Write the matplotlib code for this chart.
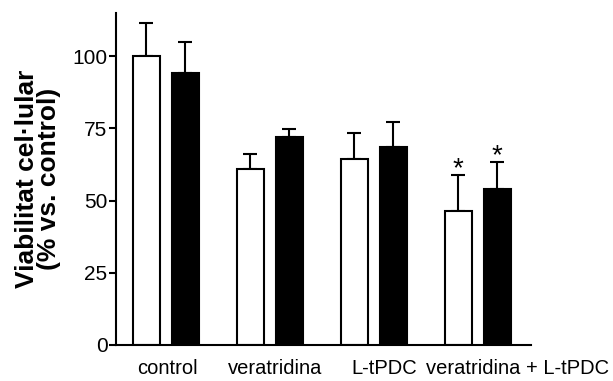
import numpy as np
import matplotlib
matplotlib.use("Agg")
import matplotlib.pyplot as plt

plt.rcParams['font.family'] = ['Liberation Sans', 'DejaVu Sans']

groups = ['control', 'veratridina', 'L-tPDC', 'veratridina + L-tPDC']
white_vals = [100, 61, 64.5, 46.5]
white_err = [11.5, 5, 8.8, 12.3]
black_vals = [94, 72, 68.5, 54]
black_err = [10.8, 2.7, 8.7, 9.4]
white_sig = [False, False, False, True]
black_sig = [False, False, False, True]

x = np.arange(len(groups))
off = 0.1875
w = 0.26

fig = plt.figure(figsize=(6.13, 3.81), dpi=100)
ax = fig.add_axes([0.189, 0.0945, 0.677, 0.872])

ax.bar(x - off, white_vals, w, color='white', edgecolor='black', linewidth=1.5, zorder=2)
ax.bar(x + off, black_vals, w, color='black', edgecolor='black', linewidth=1.5, zorder=2)
ax.errorbar(x - off, white_vals, yerr=[np.zeros(4), white_err], fmt='none',
            ecolor='black', elinewidth=1.5, capsize=5, capthick=1.5, zorder=1)
ax.errorbar(x + off, black_vals, yerr=[np.zeros(4), black_err], fmt='none',
            ecolor='black', elinewidth=1.5, capsize=5, capthick=1.5, zorder=1)

for i in range(len(groups)):
    if white_sig[i]:
        ax.text(x[i] - off, white_vals[i] + white_err[i] - 2.5, '*', ha='center',
                va='bottom', fontsize=20)
    if black_sig[i]:
        ax.text(x[i] + off, black_vals[i] + black_err[i] - 2.5, '*', ha='center',
                va='bottom', fontsize=20)

ax.set_xlim(-0.48, 3.51)
ax.set_ylim(0, 115)
ax.set_yticks([0, 25, 50, 75, 100])
# last label sits shifted right in the original
ax.set_xticks([0.015, 1.05, 2.1, 3.38])
ax.set_xticklabels(groups, fontsize=14.5)
ax.tick_params(axis='y', labelsize=15, length=5, width=1.5, pad=1)
ax.tick_params(axis='x', length=0, pad=10)
ax.spines['top'].set_visible(False)
ax.spines['right'].set_visible(False)
ax.spines['left'].set_linewidth(1.5)
ax.spines['bottom'].set_linewidth(1.5)
ax.set_ylabel('Viabilitat cel·lular\n(% vs. control)', fontsize=19,
              fontweight='bold', linespacing=0.9, labelpad=8)

fig.savefig('out.png', dpi=100)
